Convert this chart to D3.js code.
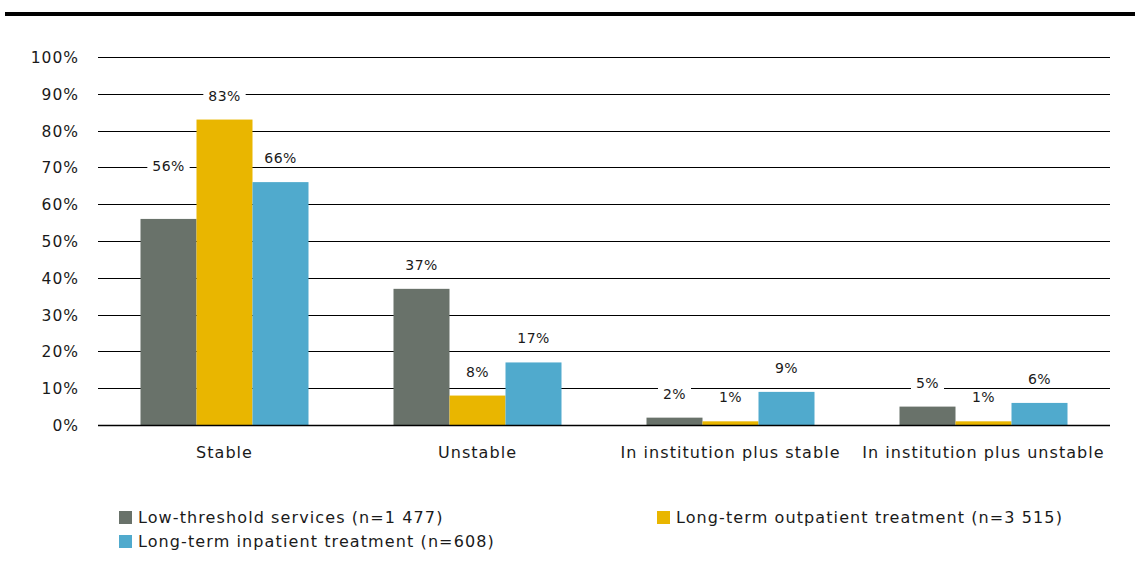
<!DOCTYPE html>
<html><head><meta charset="utf-8">
<script src="https://cdn.jsdelivr.net/npm/d3@7/dist/d3.min.js"></script>
<style>body{margin:0;background:#fff}svg{display:block;font-family:"DejaVu Sans",sans-serif}</style>
</head><body><svg id="c" width="1135" height="575"></svg>
<script>
const categories = ["Stable","Unstable","In institution plus stable","In institution plus unstable"];
const seriesNames = ["Low-threshold services (n=1 477)","Long-term outpatient treatment (n=3 515)","Long-term inpatient treatment (n=608)"];
const lowThreshold = [56,37,2,5];
const outpatient = [83,8,1,1];
const inpatient = [66,17,9,6];
const yTicks = [0,10,20,30,40,50,60,70,80,90,100];
const colors = ["#69726a","#e9b600","#50aacd"];

(function(){
const series = [lowThreshold, outpatient, inpatient];
const svg = d3.select("#c");
const mLeft = 98, mRight = 1110, mTop = 57, mBottom = 425;

svg.append("line").attr("x1",5).attr("x2",1135).attr("y1",14).attr("y2",14)
  .attr("stroke","#000").attr("stroke-width",4);

const x = d3.scaleBand().domain(categories).range([mLeft,mRight]).paddingInner(0).paddingOuter(0);
const y = d3.scaleLinear().domain([0,100]).range([mBottom,mTop]);
const groupW = 168;
const xs = d3.scaleBand().domain(d3.range(3)).range([0,groupW]);

svg.append("g").selectAll("line").data(yTicks).join("line")
  .attr("x1",mLeft).attr("x2",mRight)
  .attr("y1",d=>Math.round(y(d))+0.5).attr("y2",d=>Math.round(y(d))+0.5)
  .attr("stroke","#000").attr("stroke-width",1);

svg.append("g").selectAll("text").data(yTicks).join("text")
  .attr("x",79).attr("y",d=>y(d)+6).attr("text-anchor","end")
  .attr("font-size",15.5).attr("letter-spacing",1).attr("fill","#1a1a1a").text(d=>d+"%");

const gBars = svg.append("g");
series.forEach((vals,si)=>{
  gBars.selectAll(null).data(vals).join("rect")
    .attr("x",(d,i)=>x(categories[i])+x.bandwidth()/2-groupW/2+xs(si))
    .attr("width",xs.bandwidth())
    .attr("y",d=>y(d)).attr("height",d=>y(0)-y(d))
    .attr("fill",colors[si]);
});

svg.append("line").attr("x1",mLeft).attr("x2",mRight).attr("y1",Math.round(y(0))+0.5).attr("y2",Math.round(y(0))+0.5)
  .attr("stroke","#000").attr("stroke-width",1.5);

const gLab = svg.append("g");
series.forEach((vals,si)=>{
  vals.forEach((v,i)=>{
    const cx = x(categories[i])+x.bandwidth()/2-groupW/2+xs(si)+xs.bandwidth()/2;
    let cy = y(v)-24;
    if (si===0 && i===0) cy = y(v)-53;
    const g = gLab.append("g");
    const t = g.append("text").attr("x",cx).attr("y",cy+5).attr("text-anchor","middle")
      .attr("font-size",14).attr("letter-spacing",0.4).attr("fill","#1a1a1a").text(v+"%");
    const bb = t.node().getBBox();
    g.insert("rect","text").attr("x",bb.x-5).attr("y",bb.y).attr("width",bb.width+10).attr("height",bb.height)
      .attr("fill","#fff");
  });
});

svg.append("g").selectAll("text").data(categories).join("text")
  .attr("x",d=>x(d)+x.bandwidth()/2).attr("y",458).attr("text-anchor","middle")
  .attr("font-size",16).attr("letter-spacing",1.05).attr("fill","#1a1a1a").text(d=>d);

const legPos = [[119,511],[657,511],[119,535]];
seriesNames.forEach((n,i)=>{
  const [lx,ly] = legPos[i];
  svg.append("rect").attr("x",lx).attr("y",ly).attr("width",13).attr("height",13).attr("fill",colors[i]);
  svg.append("text").attr("x",lx+19).attr("y",ly+12).attr("font-size",16).attr("letter-spacing",1.1).attr("fill","#1a1a1a").text(n);
});
})();
</script></body></html>
